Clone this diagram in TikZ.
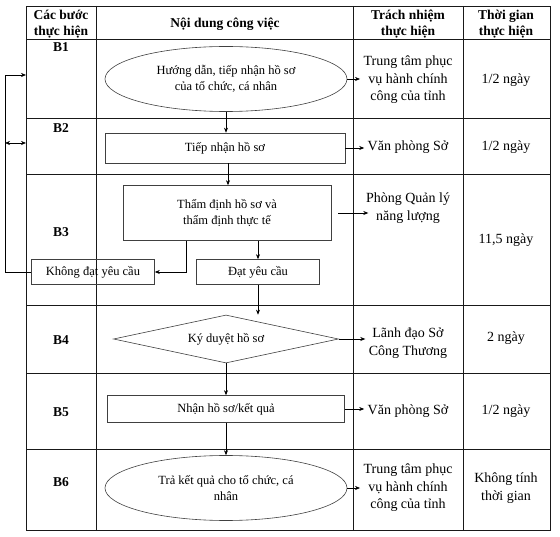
\documentclass[tikz,border=0pt]{standalone}
\usepackage{fontspec}
\setmainfont{Liberation Serif}
\usetikzlibrary{arrows.meta, positioning, calc, shapes.geometric}

\begin{document}
\begin{tikzpicture}[
        x=1pt, y=-1pt,
        grid/.style={line width=0.8pt, draw=black!90},
        headcell/.style={font=\bfseries\fontsize{13.5}{16.5}\selectfont, align=center},
        cell/.style={font=\fontsize{14}{17.5}\selectfont, align=center},
        flowtext/.style={font=\fontsize{12.5}{16}\selectfont, align=center},
        stepbox/.style={
            flowtext,
            rectangle,
            draw=black!75,
            line width=0.6pt,
            inner sep=0pt
        },
        terminal/.style={
            flowtext,
            ellipse,
            draw=black!75,
            line width=0.6pt,
            inner sep=0pt,
            minimum width=242pt,
            minimum height=65pt
        },
        decision/.style={
            flowtext,
            diamond,
            aspect=4.7,
            draw=black!75,
            line width=0.6pt,
            inner sep=0pt,
            minimum width=225pt,
            minimum height=48pt
        },
        arr/.style={-{Stealth[length=5pt, width=4pt]}, line width=0.6pt},
        dblarr/.style={{Stealth[length=5pt, width=4pt]}-{Stealth[length=5pt, width=4pt]}, line width=0.6pt}
    ]
        \useasboundingbox (0,0) rectangle (560,537);

        \coordinate (nw) at (26,6);
        \coordinate (se) at (550,530);
        \draw[grid] (nw) rectangle (se);
        \foreach \y in {39,118,174,305,373,449}
            \draw[grid] (26,\y) -- (550,\y);
        \foreach \x in {96,353,463}
            \draw[grid] (\x,6) -- (\x,530);

        \node[headcell] (hstep) at (61,24) {Các bước\\thực hiện};
        \node[headcell] (hcontent) at (225,24) {Nội dung công việc};
        \node[headcell] (hresp) at (408,24) {Trách nhiệm\\thực hiện};
        \node[headcell] (htime) at (506,24) {Thời gian\\thực hiện};

        \node[headcell] (b1) at (61,47) {B1};
        \node[headcell] (b2) at (61,128) {B2};
        \node[headcell] (b3) at (61,232) {B3};
        \node[headcell] (b4) at (61,340) {B4};
        \node[headcell] (b5) at (61,412) {B5};
        \node[headcell] (b6) at (61,482) {B6};

        \node[terminal] (guide) at (226,79) {Hướng dẫn, tiếp nhận hồ sơ\\của tổ chức, cá nhân};
        \node[
            stepbox,
            minimum width=240pt,
            minimum height=30pt
        ] (receive) at (225,148) {Tiếp nhận hồ sơ};
        \node[
            stepbox,
            minimum width=208pt,
            minimum height=55pt
        ] (appraise) at (227,213) {Thẩm định hồ sơ và\\thẩm định thực tế};
        \node[
            stepbox,
            minimum width=123pt,
            minimum height=25pt
        ] (fail) at (93,272) {Không đạt yêu cầu};
        \node[
            stepbox,
            minimum width=123pt,
            minimum height=25pt
        ] (pass) at (258,272) {Đạt yêu cầu};
        \node[decision] (approve) at (226,339) {Ký duyệt hồ sơ};
        \node[
            stepbox,
            minimum width=237pt,
            minimum height=27pt
        ] (result) at (226,409) {Nhận hồ sơ/kết quả};
        \node[terminal] (giveback) at (226,488) {Trả kết quả cho tổ chức, cá\\nhân};

        \node[cell] (r1) at (408,80) {Trung tâm phục\\vụ hành chính\\công của tỉnh};
        \node[cell] (r2) at (408,147) {Văn phòng Sở};
        \node[cell] (r3) at (408,208) {Phòng Quản lý\\năng lượng};
        \node[cell] (r4) at (408,343) {Lãnh đạo Sở\\Công Thương};
        \node[cell] (r5) at (408,411) {Văn phòng Sở};
        \node[cell] (r6) at (408,488) {Trung tâm phục\\vụ hành chính\\công của tỉnh};

        \node[cell] (t1) at (506,80) {1/2 ngày};
        \node[cell] (t2) at (506,147) {1/2 ngày};
        \node[cell] (t3) at (506,240) {11,5 ngày};
        \node[cell] (t4) at (506,338) {2 ngày};
        \node[cell] (t5) at (506,411) {1/2 ngày};
        \node[cell] (t6) at (506,488) {Không tính\\thời gian};

        \draw[arr] (guide.east) -- (guide.east -| r1.west);
        \draw[arr] (receive.east) -- (receive.east -| r2.west);
        \draw[arr] ([xshift=7pt]appraise.east) -- ([xshift=37pt]appraise.east);
        \draw[arr] (approve.east) -- (approve.east -| r4.west);
        \draw[arr] (result.east) -- (result.east -| r5.west);
        \draw[arr] (giveback.east) -- (giveback.east -| r6.west);

        \draw[arr] (guide.south) -- (guide.south |- receive.north);
        \draw[arr] ([xshift=3pt]receive.south) -- ([xshift=3pt]receive.south |- appraise.north);
        \draw[arr] ([xshift=-41pt]appraise.south) |- (fail.east);
        \draw[arr] (appraise.south -| pass.north) -- (pass.north);
        \draw[arr] (pass.south) -- (pass.south |- approve.north);
        \draw[arr] (approve.south) -- (approve.south |- result.north);
        \draw[arr] (result.south) -- (result.south |- giveback.north);

        \coordinate (loop) at (5,75);
        \coordinate (back) at (5,143);
        \draw[arr] (fail.west) -| (loop) -- (loop -| nw);
        \draw[dblarr] (back) -- (back -| nw);
    \end{tikzpicture}
\end{document}
